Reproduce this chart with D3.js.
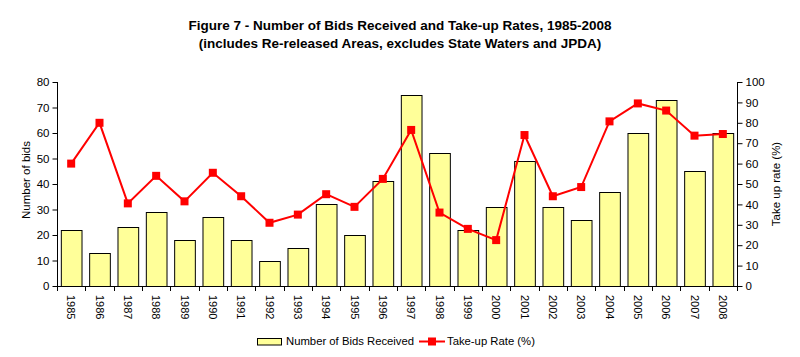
<!DOCTYPE html>
<html><head><meta charset="utf-8">
<script src="https://cdn.jsdelivr.net/npm/d3@7/dist/d3.min.js"></script>
<style>body{margin:0;background:#fff;}svg{display:block;font-family:"Liberation Sans",Arial,sans-serif;}</style>
</head><body>
<svg id="c" width="800" height="357"></svg>
<script>
const years = ["1985","1986","1987","1988","1989","1990","1991","1992","1993","1994","1995","1996","1997","1998","1999","2000","2001","2002","2003","2004","2005","2006","2007","2008"];
const bids = [22,13,23,29,18,27,18,10,15,32,20,41,75,52,22,31,49,31,26,37,60,73,45,60];
const takeUp = [60,80,40.5,54,41.5,55.5,44,31,35,45,38.8,52.5,76.5,36,28,22.5,74,44,48.5,80.7,89.5,86,73.7,74.5];
const leftTicks = [0,10,20,30,40,50,60,70,80];
const rightTicks = [0,10,20,30,40,50,60,70,80,90,100];

const svg = d3.select("#c");
const L = 57, R = 737, T = 82, B = 286;
const x = d3.scaleBand().domain(years).range([L, R]).paddingInner(0.27).paddingOuter(0.135);
const xb = d3.scaleBand().domain(years).range([L, R]);
const yL = d3.scaleLinear().domain([0,80]).range([B, T]);
const yR = d3.scaleLinear().domain([0,100]).range([B, T]);

// title
svg.append("text").attr("x",400).attr("y",30).attr("text-anchor","middle").attr("font-weight","bold").attr("font-size",13.5).text("Figure 7 - Number of Bids Received and Take-up Rates, 1985-2008");
svg.append("text").attr("x",400).attr("y",48).attr("text-anchor","middle").attr("font-weight","bold").attr("font-size",13.5).text("(includes Re-released Areas, excludes State Waters and JPDA)");

// bars
svg.append("g").selectAll("rect").data(years).join("rect")
  .attr("x", d => x(d)+0.5).attr("y", (d,i) => Math.round(yL(bids[i]))+0.5)
  .attr("width", x.bandwidth()).attr("height", (d,i) => B - Math.round(yL(bids[i])))
  .attr("fill","#FFFF99").attr("stroke","#000").attr("stroke-width",1);

// axes
const gl = svg.append("g").attr("transform",`translate(${L+0.5},0)`)
  .call(d3.axisLeft(yL).tickValues(leftTicks).tickSize(5).tickPadding(3));
const gr = svg.append("g").attr("transform",`translate(${R+0.5},0)`)
  .call(d3.axisRight(yR).tickValues(rightTicks).tickSize(5).tickPadding(3));
[gl,gr].forEach(g=>{g.select(".domain").attr("d", `M0,${T}V${B}`);
  g.selectAll("text").attr("font-size",11.5).attr("font-family","Liberation Sans, Arial").attr("fill","#000");
  g.selectAll("line").attr("stroke","#000");});

// x axis
const gx = svg.append("g");
gx.append("line").attr("x1",L).attr("x2",R+1).attr("y1",B+0.5).attr("y2",B+0.5).attr("stroke","#000");
gx.selectAll("line.t").data(years.concat(["end"])).join("line").attr("class","t")
  .attr("x1",(d,i)=> Math.round(i<years.length? xb(d): R)+0.5).attr("x2",(d,i)=> Math.round(i<years.length? xb(d): R)+0.5)
  .attr("y1",B).attr("y2",B+5).attr("stroke","#000");
gx.selectAll("text").data(years).join("text")
  .attr("transform", d => `translate(${xb(d)+xb.bandwidth()/2-4},${B+9}) rotate(90)`)
  .attr("font-size",11).text(d=>d);

// line
const line = d3.line().x((d,i)=> xb(years[i])+xb.bandwidth()/2).y(d=>yR(d));
svg.append("path").datum(takeUp).attr("d",line).attr("fill","none").attr("stroke","#FF0000").attr("stroke-width",2);
svg.append("g").selectAll("rect").data(takeUp).join("rect")
  .attr("x",(d,i)=> xb(years[i])+xb.bandwidth()/2-4).attr("y",d=>yR(d)-4)
  .attr("width",8).attr("height",8).attr("fill","#FF0000");

// axis titles
svg.append("text").attr("transform","translate(30,180) rotate(-90)").attr("text-anchor","middle").attr("font-size",11.5).text("Number of bids");
svg.append("text").attr("transform","translate(780,184) rotate(-90)").attr("text-anchor","middle").attr("font-size",11.5).text("Take up rate (%)");

// legend
const lg = svg.append("g");
lg.append("rect").attr("x",257.5).attr("y",338.5).attr("width",24).attr("height",6.5).attr("fill","#FFFF99").attr("stroke","#000");
lg.append("text").attr("x",286).attr("y",345).attr("font-size",11.3).text("Number of Bids Received");
lg.append("line").attr("x1",419).attr("x2",445).attr("y1",341.5).attr("y2",341.5).attr("stroke","#FF0000").attr("stroke-width",2);
lg.append("rect").attr("x",428).attr("y",337.5).attr("width",8).attr("height",8).attr("fill","#FF0000");
lg.append("text").attr("x",447).attr("y",345).attr("font-size",11.3).text("Take-up Rate (%)");
</script>
</body></html>
